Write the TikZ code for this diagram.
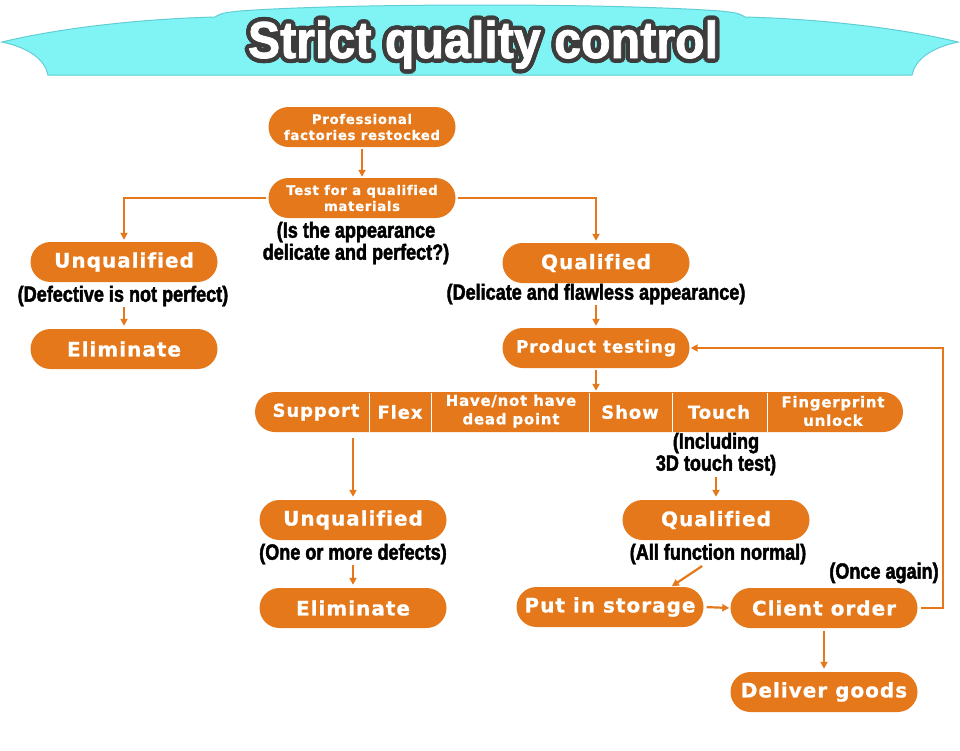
\documentclass[tikz,border=0pt]{standalone}
\usepackage{fontspec}
\setmainfont{Liberation Sans}
\newfontfamily\pillfont[LetterSpace=5,FakeBold=0.8,Ligatures={NoCommon}]{DejaVu Sans}
\newfontfamily\lblfont[FakeStretch=0.82,FakeBold=2]{Liberation Sans}
\newfontfamily\ttlfont[FakeStretch=0.93,FakeBold=1.5]{Liberation Sans}
\usetikzlibrary{shapes.misc,arrows.meta,calc}
\definecolor{qorange}{RGB}{228,120,26}
\definecolor{qcyan}{RGB}{128,244,244}
\definecolor{qcyanedge}{RGB}{96,206,212}
\definecolor{tdark}{RGB}{60,60,60}
\tikzset{
  pill/.style={rounded rectangle, fill=qorange, text=white,
    font=\pillfont\bfseries\fontsize{20}{22}\selectfont,
    minimum width=187pt, minimum height=40pt, inner sep=0pt, align=center},
  smallpill/.style={pill, font=\pillfont\bfseries\fontsize{13.3}{16}\selectfont},
  midpill/.style={pill, font=\pillfont\bfseries\fontsize{17}{20}\selectfont},
  barbox/.style={rounded rectangle, fill=qorange, minimum width=648pt,
    minimum height=40pt, inner sep=0pt},
  cell/.style={text=white, font=\pillfont\bfseries\fontsize{18}{20}\selectfont,
    inner sep=0pt, align=center},
  cell2/.style={cell, font=\pillfont\bfseries\fontsize{15}{18.5}\selectfont},
  lbl/.style={text=black, font=\lblfont\bfseries\fontsize{22}{22}\selectfont,
    inner sep=1pt, align=center},
  ttl/.style={font=\ttlfont\bfseries\fontsize{52}{56}\selectfont, anchor=base, inner sep=0pt},
  arr/.style={draw=qorange, line width=2.2pt, -{Triangle[length=7pt,width=7pt]}},
  divider/.style={draw=white, line width=1pt}
}
\begin{document}
\begin{tikzpicture}[x=1pt,y=-1pt]
\useasboundingbox (0,0) rectangle (960,750);
\fill[white] (0,0) rectangle (960,750);
% banner
\filldraw[fill=qcyan, draw=qcyanedge, line width=1pt]
  (48,75) -- (912,75)
  .. controls (915,60) and (930,48) .. (958,42)
  .. controls (900,28) and (820,19) .. (745,17)
  .. controls (738,13) .. (720,11)
  .. controls (610,3) and (350,3) .. (240,11)
  .. controls (222,13) .. (215,17)
  .. controls (140,19) and (60,28) .. (2,42)
  .. controls (30,48) and (45,60) .. (48,75) -- cycle;
% title with outline
\foreach \i in {1,...,16}{
  \node[ttl, text=tdark] (ts\i) at ($(483,58)+(\i*22.5:4.4)$) {Strict quality control};
}
\node[ttl, text=white] (title) at (483,58) {Strict quality control};
% top
\node[smallpill] (prof) at (362,127) {Professional\\factories restocked};
\node[smallpill] (test) at (362,198) {Test for a qualified\\materials};
\node[lbl] (lblTest) at (356,243) {(Is the appearance\\delicate and perfect?)};
% left branch
\node[pill] (unqL) at (124,262) {Unqualified};
\node[lbl] (lblDef) at (123,296) {(Defective is not perfect)};
\node[pill] (elimL) at (124,349) {Eliminate};
% right branch
\node[pill] (qualR) at (596,263) {Qualified};
\node[lbl] (lblQual) at (596,294) {(Delicate and flawless appearance)};
\node[midpill] (prod) at (596,348) {Product testing};
% bar
\node[barbox] (bar) at (579,412) {};
\node[cell] (cSup) at (316,412) {Support};
\node[cell] (cFlex) at (400,412) {Flex};
\node[cell2] (cDead) at (511,411) {Have/not have\\dead point};
\node[cell] (cShow) at (630,412) {Show};
\node[cell] (cTouch) at (719,412) {Touch};
\node[cell2] (cFing) at (833,411) {Fingerprint\\unlock};
\foreach \xd in {369,431,589,672,767}{
  \draw[divider] (\xd,392.5) -- (\xd,431.5);
}
\node[lbl] (lblInc) at (716,454) {(Including\\3D touch test)};
% middle bottom
\node[pill] (unqM) at (353,520) {Unqualified};
\node[lbl] (lblOne) at (353,554) {(One or more defects)};
\node[pill] (elimM) at (353,608) {Eliminate};
% right bottom
\node[pill] (qualM) at (716,520) {Qualified};
\node[lbl] (lblAll) at (718,554) {(All function normal)};
\node[pill] (store) at (610,607) {Put in storage};
\node[pill] (client) at (824,608) {Client order};
\node[lbl] (lblOnce) at (884,573) {(Once again)};
\node[pill] (deliver) at (824,692) {Deliver goods};
% connectors
\draw[arr, shorten <=2pt, shorten >=1pt] (prof.south) -- (test.north);
\draw[arr, shorten <=2pt, shorten >=2pt] (test.west) -| (unqL.north);
\draw[arr, shorten <=2pt, shorten >=2pt] (test.east) -| (qualR.north);
\draw[arr, shorten <=0pt, shorten >=3pt] (unqL.south |- lblDef.south) -- (elimL.north);
\draw[arr, shorten <=0pt, shorten >=2pt] (lblQual.south) -- (prod.north);
\draw[arr, shorten <=2pt, shorten >=1pt] (prod.south) -- (prod.south |- bar.north);
\draw[arr, shorten <=6pt, shorten >=3pt] (unqM.north |- bar.south) -- (unqM.north);
\draw[arr, shorten <=0pt, shorten >=3pt] (lblOne.south) -- (elimM.north);
\draw[arr, shorten <=1pt, shorten >=3pt] (lblInc.south) -- (qualM.north);
\draw[arr, shorten <=1pt, shorten >=1pt] ($(lblAll.south)+(-15,0)$) -- ($(store.north)+(61,0)$);
\draw[arr, shorten <=3pt, shorten >=1pt] (store.east) -- (client.west);
\draw[arr, shorten <=3pt, shorten >=1pt] (client.east) -- ++(25,0) |- (prod.east);
\draw[arr, shorten <=3pt, shorten >=3pt] (client.south) -- (deliver.north);
\end{tikzpicture}
\end{document}
